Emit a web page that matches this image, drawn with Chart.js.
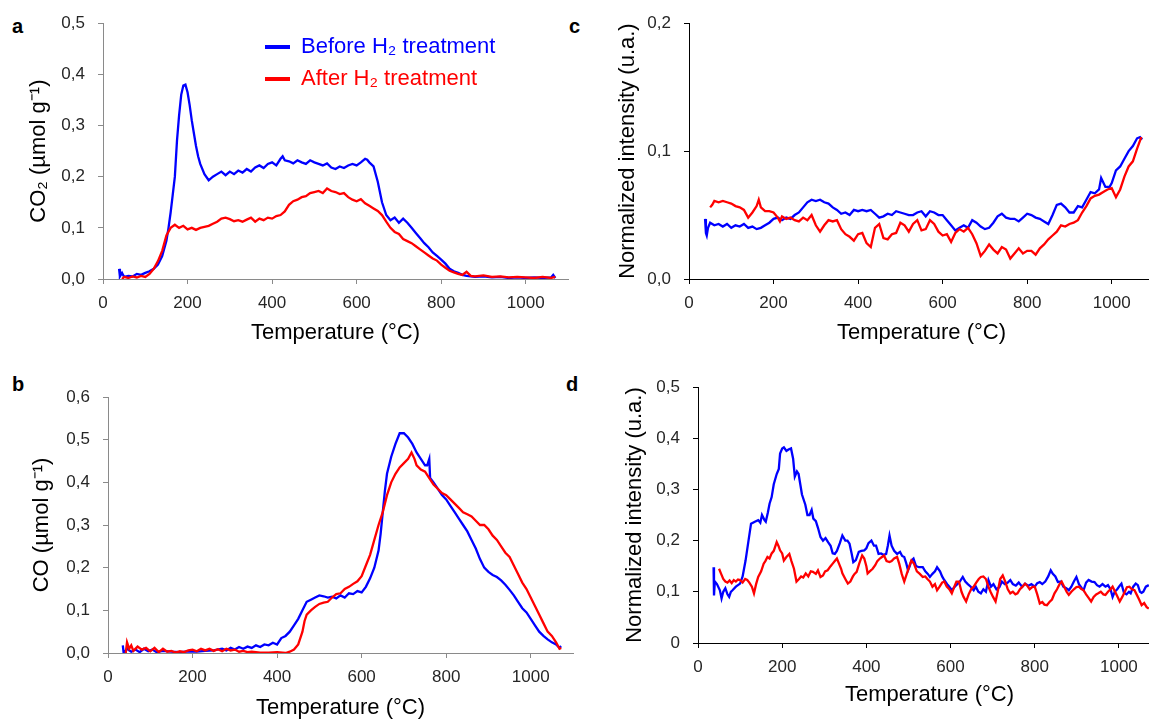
<!DOCTYPE html>
<html>
<head>
<meta charset="utf-8">
<script src="https://cdn.jsdelivr.net/npm/chart.js@4.4.0/dist/chart.umd.min.js"></script>
<style>
  body { margin: 0; width: 1149px; height: 719px; overflow: hidden; background: #fff; position: relative; }
  canvas { position: absolute; }
  .lbl { position: absolute; font: bold 20px "Liberation Sans", Arial, sans-serif; color: #000; }
</style>
</head>
<body>
<div class="lbl" style="left:12px;top:15px">a</div>
<div class="lbl" style="left:569px;top:15px">c</div>
<div class="lbl" style="left:12px;top:373px">b</div>
<div class="lbl" style="left:566px;top:373px">d</div>
<canvas id="chartA" width="580" height="360" style="left:0;top:0"></canvas>
<canvas id="chartC" width="580" height="360" style="left:580px;top:0"></canvas>
<canvas id="chartB" width="580" height="380" style="left:0;top:360px"></canvas>
<canvas id="chartD" width="590" height="360" style="left:580px;top:360px"></canvas>
<script>
// Etiquettes
const seriesNames = ['Before H\u2082 treatment', 'After H\u2082 treatment'];
const xTickLabels = ['0', '200', '400', '600', '800', '1000'];
const yTicksA = ['0,0', '0,1', '0,2', '0,3', '0,4', '0,5'];
const yTicksB = ['0,0', '0,1', '0,2', '0,3', '0,4', '0,5', '0,6'];
const yTicksC = ['0,0', '0,1', '0,2'];
const yTicksD = ['0', '0,1', '0,2', '0,3', '0,4', '0,5'];

// a : CO2 (température, valeur)
const aBefore = [[38,0.02],[40,0.005],[45,0.012],[50,0.004],[60,0.006],[70,0.005],[80,0.01],[90,0.008],[100,0.012],[110,0.015],[120,0.02],[130,0.028],[140,0.045],[150,0.075],[155,0.1],[160,0.13],[165,0.165],[170,0.2],[175,0.27],[180,0.32],[185,0.36],[190,0.378],[195,0.38],[200,0.365],[205,0.34],[210,0.31],[215,0.285],[220,0.26],[225,0.24],[230,0.225],[240,0.205],[250,0.193],[260,0.2],[270,0.205],[280,0.21],[290,0.203],[300,0.21],[310,0.205],[320,0.212],[330,0.208],[340,0.215],[350,0.21],[360,0.218],[370,0.222],[380,0.217],[390,0.225],[400,0.228],[410,0.222],[420,0.235],[425,0.24],[430,0.232],[440,0.23],[450,0.226],[460,0.232],[470,0.228],[480,0.225],[490,0.232],[500,0.228],[510,0.225],[520,0.222],[530,0.226],[540,0.218],[550,0.215],[560,0.22],[570,0.217],[580,0.222],[590,0.225],[600,0.222],[610,0.228],[620,0.235],[625,0.233],[630,0.228],[640,0.22],[650,0.19],[660,0.15],[670,0.125],[680,0.115],[690,0.12],[700,0.11],[710,0.118],[720,0.11],[730,0.1],[740,0.09],[750,0.08],[760,0.07],[770,0.062],[780,0.052],[790,0.045],[800,0.038],[810,0.03],[820,0.02],[830,0.015],[840,0.012],[850,0.008],[860,0.006],[880,0.004],[900,0.005],[920,0.003],[940,0.004],[960,0.002],[980,0.003],[1000,0.002],[1020,0.003],[1040,0.002],[1060,0.003],[1065,0.008],[1070,0.002]];
const aAfter = [[45,0.0],[50,0.004],[60,0.002],[70,0.005],[80,0.003],[90,0.006],[100,0.004],[110,0.01],[120,0.02],[130,0.035],[140,0.055],[150,0.085],[160,0.1],[170,0.106],[180,0.1],[190,0.104],[200,0.097],[210,0.1],[220,0.096],[230,0.1],[240,0.102],[250,0.104],[260,0.108],[270,0.112],[280,0.118],[290,0.12],[300,0.117],[310,0.113],[320,0.115],[330,0.112],[340,0.116],[350,0.12],[360,0.112],[370,0.118],[380,0.115],[390,0.12],[400,0.118],[410,0.123],[420,0.125],[430,0.132],[440,0.145],[450,0.152],[460,0.155],[470,0.16],[480,0.162],[490,0.168],[500,0.17],[510,0.172],[520,0.168],[530,0.177],[540,0.172],[550,0.17],[560,0.166],[570,0.168],[580,0.16],[590,0.155],[600,0.152],[610,0.156],[620,0.148],[630,0.143],[640,0.138],[650,0.133],[660,0.125],[670,0.112],[680,0.1],[690,0.092],[700,0.088],[710,0.078],[720,0.074],[730,0.07],[740,0.064],[750,0.058],[760,0.052],[770,0.046],[780,0.04],[790,0.036],[800,0.028],[810,0.022],[820,0.016],[830,0.013],[840,0.01],[850,0.008],[860,0.014],[870,0.006],[880,0.005],[900,0.007],[920,0.004],[940,0.005],[960,0.003],[980,0.004],[1000,0.003],[1020,0.002],[1040,0.004],[1060,0.002],[1070,0.004]];

// b : CO
const bBefore = [[35,0.018],[37,0.0],[45,0.01],[55,0.003],[65,0.008],[75,0.002],[85,0.01],[95,0.004],[105,0.008],[115,0.002],[130,0.005],[150,0.003],[170,0.002],[190,0.004],[210,0.003],[230,0.005],[250,0.006],[270,0.01],[280,0.006],[290,0.012],[300,0.008],[310,0.014],[320,0.01],[330,0.015],[340,0.012],[350,0.018],[360,0.014],[370,0.02],[380,0.018],[390,0.024],[400,0.02],[410,0.035],[420,0.04],[430,0.05],[440,0.065],[450,0.08],[460,0.1],[470,0.12],[480,0.125],[490,0.13],[500,0.135],[510,0.133],[520,0.13],[530,0.132],[540,0.128],[550,0.135],[560,0.13],[570,0.14],[580,0.138],[590,0.145],[600,0.142],[610,0.155],[620,0.175],[630,0.2],[640,0.24],[645,0.28],[650,0.33],[655,0.38],[660,0.42],[670,0.46],[680,0.49],[690,0.515],[700,0.515],[710,0.505],[720,0.49],[730,0.47],[740,0.455],[750,0.44],[755,0.44],[760,0.455],[762,0.41],[770,0.4],[780,0.385],[790,0.37],[800,0.36],[810,0.345],[820,0.33],[830,0.315],[840,0.3],[850,0.285],[860,0.265],[870,0.245],[880,0.22],[890,0.2],[900,0.19],[910,0.183],[920,0.178],[930,0.17],[940,0.16],[950,0.148],[960,0.135],[970,0.12],[980,0.105],[990,0.095],[1000,0.08],[1010,0.065],[1020,0.05],[1030,0.04],[1040,0.032],[1050,0.025],[1060,0.02],[1068,0.012],[1072,0.016]];
const bAfter = [[42,0.0],[45,0.025],[50,0.01],[55,0.018],[60,0.005],[70,0.015],[80,0.008],[90,0.012],[100,0.004],[110,0.012],[120,0.002],[130,0.01],[140,0.003],[150,0.005],[160,0.001],[170,0.004],[180,0.002],[190,0.006],[200,0.008],[210,0.004],[220,0.01],[230,0.006],[240,0.01],[250,0.005],[260,0.009],[270,0.004],[280,0.01],[290,0.006],[300,0.008],[310,0.003],[320,0.005],[330,0.002],[340,0.003],[360,0.001],[380,0.001],[400,0.002],[420,0.0],[430,0.003],[440,0.008],[450,0.02],[460,0.05],[465,0.075],[470,0.09],[480,0.1],[490,0.108],[500,0.115],[510,0.118],[520,0.12],[530,0.13],[540,0.138],[550,0.14],[560,0.15],[570,0.155],[580,0.162],[590,0.168],[600,0.18],[610,0.205],[620,0.23],[630,0.265],[640,0.3],[650,0.33],[660,0.37],[670,0.4],[680,0.42],[690,0.435],[700,0.445],[710,0.455],[718,0.47],[725,0.455],[730,0.44],[740,0.43],[750,0.425],[760,0.41],[770,0.395],[780,0.385],[790,0.375],[800,0.37],[810,0.36],[820,0.35],[830,0.34],[840,0.33],[850,0.325],[860,0.32],[870,0.31],[880,0.3],[890,0.3],[900,0.29],[910,0.275],[920,0.265],[930,0.25],[940,0.235],[950,0.225],[960,0.205],[970,0.185],[980,0.165],[990,0.15],[1000,0.13],[1010,0.11],[1020,0.09],[1030,0.07],[1040,0.05],[1050,0.04],[1060,0.025],[1068,0.01],[1072,0.012]];

// c : intensité normalisée
const cBefore = [[38,0.047],[40,0.036],[42,0.034],[45,0.04],[50,0.044],[60,0.042],[70,0.043],[80,0.041],[90,0.043],[100,0.04],[110,0.042],[120,0.041],[130,0.043],[140,0.04],[150,0.041],[160,0.039],[170,0.04],[180,0.042],[190,0.044],[200,0.047],[210,0.048],[220,0.046],[230,0.048],[240,0.047],[250,0.05],[260,0.052],[270,0.056],[280,0.06],[290,0.062],[300,0.061],[310,0.062],[320,0.06],[330,0.059],[340,0.056],[350,0.054],[360,0.051],[370,0.052],[380,0.05],[390,0.054],[400,0.053],[410,0.054],[420,0.053],[430,0.054],[440,0.051],[450,0.048],[460,0.049],[470,0.051],[480,0.05],[490,0.053],[500,0.052],[510,0.051],[520,0.05],[530,0.05],[540,0.052],[550,0.053],[560,0.049],[570,0.053],[580,0.052],[590,0.05],[600,0.05],[610,0.046],[620,0.042],[630,0.038],[640,0.04],[650,0.042],[660,0.04],[670,0.046],[680,0.044],[690,0.041],[700,0.039],[710,0.04],[720,0.044],[730,0.049],[740,0.051],[750,0.048],[760,0.047],[770,0.047],[780,0.045],[790,0.048],[800,0.051],[810,0.05],[820,0.048],[830,0.047],[840,0.045],[850,0.043],[860,0.05],[870,0.058],[880,0.059],[890,0.056],[900,0.052],[910,0.052],[920,0.057],[930,0.056],[940,0.062],[950,0.068],[960,0.067],[970,0.07],[975,0.079],[985,0.072],[995,0.072],[1000,0.075],[1010,0.085],[1020,0.088],[1030,0.094],[1040,0.1],[1050,0.104],[1060,0.11],[1067,0.111],[1072,0.109]];
const cAfter = [[50,0.056],[55,0.058],[60,0.061],[70,0.06],[80,0.061],[90,0.06],[100,0.059],[110,0.057],[120,0.056],[130,0.054],[140,0.048],[150,0.052],[160,0.057],[165,0.062],[170,0.056],[180,0.053],[190,0.053],[200,0.052],[210,0.048],[215,0.045],[220,0.049],[230,0.047],[240,0.048],[250,0.046],[260,0.045],[270,0.048],[280,0.046],[290,0.05],[300,0.042],[310,0.037],[320,0.042],[330,0.046],[340,0.045],[350,0.046],[360,0.039],[370,0.035],[380,0.033],[390,0.03],[400,0.035],[410,0.036],[420,0.028],[430,0.025],[440,0.04],[450,0.043],[460,0.032],[470,0.031],[480,0.035],[490,0.036],[500,0.044],[510,0.042],[520,0.037],[530,0.043],[540,0.046],[550,0.038],[560,0.039],[570,0.046],[580,0.043],[590,0.037],[600,0.034],[610,0.035],[620,0.029],[630,0.036],[640,0.039],[650,0.037],[660,0.04],[670,0.035],[680,0.028],[690,0.018],[700,0.022],[710,0.027],[720,0.023],[730,0.02],[740,0.025],[750,0.023],[760,0.016],[770,0.02],[780,0.024],[790,0.02],[800,0.022],[810,0.022],[820,0.019],[830,0.024],[840,0.027],[850,0.031],[860,0.034],[870,0.037],[880,0.042],[890,0.041],[900,0.043],[910,0.044],[920,0.046],[930,0.052],[940,0.057],[950,0.063],[960,0.065],[970,0.066],[980,0.068],[990,0.07],[1000,0.071],[1010,0.064],[1020,0.07],[1030,0.08],[1040,0.088],[1050,0.092],[1060,0.102],[1070,0.111]];

// d : intensité normalisée
const dBefore = [[37,0.148],[38,0.093],[40,0.12],[45,0.115],[52,0.103],[56,0.087],[60,0.1],[65,0.107],[70,0.095],[74,0.09],[78,0.1],[82,0.103],[90,0.11],[100,0.116],[106,0.13],[113,0.161],[120,0.2],[126,0.233],[135,0.237],[143,0.24],[148,0.235],[152,0.25],[158,0.24],[161,0.237],[166,0.255],[170,0.272],[175,0.285],[180,0.31],[187,0.33],[192,0.34],[195,0.37],[200,0.38],[204,0.382],[210,0.375],[215,0.378],[221,0.38],[226,0.36],[230,0.325],[235,0.335],[239,0.33],[243,0.31],[247,0.29],[255,0.27],[260,0.25],[265,0.25],[270,0.26],[274,0.243],[280,0.238],[285,0.225],[291,0.207],[297,0.2],[303,0.205],[309,0.197],[315,0.19],[320,0.175],[325,0.174],[330,0.18],[337,0.195],[343,0.21],[350,0.2],[355,0.2],[360,0.194],[365,0.175],[369,0.158],[375,0.162],[382,0.178],[388,0.18],[395,0.181],[400,0.185],[405,0.195],[412,0.2],[418,0.19],[423,0.19],[429,0.174],[435,0.175],[441,0.172],[447,0.174],[451,0.19],[455,0.21],[460,0.19],[466,0.18],[473,0.174],[480,0.178],[485,0.17],[490,0.168],[495,0.155],[499,0.142],[503,0.15],[507,0.161],[512,0.165],[518,0.15],[525,0.148],[534,0.148],[540,0.14],[546,0.135],[551,0.129],[557,0.135],[563,0.14],[568,0.148],[575,0.14],[580,0.13],[585,0.123],[592,0.115],[597,0.11],[603,0.103],[610,0.11],[616,0.115],[622,0.12],[629,0.129],[635,0.12],[641,0.115],[648,0.11],[655,0.103],[660,0.11],[666,0.1],[672,0.097],[678,0.105],[684,0.1],[690,0.123],[696,0.11],[702,0.115],[709,0.105],[716,0.109],[722,0.12],[729,0.115],[736,0.118],[742,0.123],[748,0.115],[755,0.112],[762,0.118],[770,0.11],[777,0.116],[785,0.112],[792,0.115],[800,0.11],[806,0.117],[812,0.119],[818,0.115],[825,0.12],[832,0.13],[838,0.142],[843,0.135],[849,0.13],[855,0.119],[862,0.12],[868,0.11],[875,0.107],[881,0.103],[887,0.11],[893,0.12],[899,0.129],[905,0.115],[911,0.108],[916,0.103],[922,0.118],[928,0.123],[935,0.12],[942,0.119],[948,0.113],[954,0.11],[961,0.115],[968,0.11],[974,0.113],[980,0.105],[985,0.09],[990,0.1],[996,0.105],[1002,0.112],[1006,0.116],[1012,0.098],[1018,0.095],[1024,0.1],[1028,0.097],[1034,0.11],[1040,0.116],[1045,0.113],[1050,0.1],[1054,0.098],[1058,0.1],[1064,0.11],[1071,0.113]];
const dAfter = [[50,0.145],[55,0.135],[60,0.125],[65,0.12],[70,0.118],[75,0.122],[80,0.117],[85,0.123],[90,0.12],[95,0.124],[100,0.123],[106,0.118],[112,0.125],[117,0.123],[122,0.118],[128,0.11],[133,0.097],[138,0.115],[143,0.129],[150,0.14],[156,0.155],[160,0.16],[165,0.168],[170,0.165],[175,0.175],[180,0.18],[187,0.197],[191,0.19],[195,0.181],[200,0.175],[204,0.161],[210,0.168],[217,0.174],[222,0.16],[228,0.145],[234,0.12],[240,0.125],[245,0.13],[250,0.128],[256,0.136],[262,0.13],[268,0.14],[273,0.139],[280,0.135],[285,0.142],[291,0.129],[297,0.132],[302,0.14],[308,0.142],[315,0.15],[320,0.155],[325,0.16],[330,0.165],[335,0.155],[340,0.145],[343,0.136],[350,0.125],[356,0.116],[362,0.12],[368,0.13],[372,0.135],[377,0.139],[383,0.155],[390,0.171],[395,0.165],[400,0.15],[403,0.136],[408,0.14],[415,0.145],[421,0.152],[426,0.16],[432,0.165],[437,0.168],[442,0.171],[448,0.16],[455,0.158],[460,0.16],[466,0.165],[473,0.168],[478,0.155],[484,0.135],[490,0.12],[496,0.135],[502,0.15],[507,0.161],[513,0.155],[520,0.14],[527,0.135],[534,0.129],[540,0.13],[545,0.125],[551,0.12],[557,0.11],[563,0.115],[568,0.103],[574,0.11],[580,0.118],[585,0.12],[591,0.11],[597,0.105],[603,0.097],[609,0.11],[614,0.12],[620,0.12],[626,0.1],[631,0.09],[637,0.081],[643,0.095],[649,0.105],[655,0.11],[661,0.118],[667,0.125],[672,0.129],[678,0.13],[684,0.125],[690,0.11],[695,0.1],[701,0.09],[707,0.081],[712,0.1],[718,0.125],[724,0.132],[730,0.12],[736,0.105],[742,0.097],[748,0.1],[754,0.095],[759,0.097],[765,0.105],[771,0.11],[777,0.116],[782,0.112],[788,0.105],[794,0.109],[800,0.11],[806,0.095],[812,0.077],[818,0.08],[823,0.075],[829,0.074],[835,0.08],[841,0.085],[847,0.097],[853,0.105],[859,0.115],[864,0.12],[870,0.11],[876,0.1],[881,0.094],[887,0.1],[893,0.105],[899,0.109],[905,0.11],[910,0.106],[916,0.103],[922,0.095],[928,0.088],[934,0.081],[940,0.09],[946,0.095],[951,0.097],[957,0.1],[963,0.095],[968,0.094],[974,0.1],[980,0.105],[985,0.11],[991,0.1],[997,0.09],[1002,0.081],[1008,0.09],[1014,0.1],[1019,0.109],[1025,0.11],[1031,0.105],[1037,0.103],[1042,0.095],[1048,0.085],[1054,0.074],[1060,0.078],[1066,0.07],[1071,0.067]];

const FONT = '"Liberation Sans", Arial, sans-serif';
const BLUE = '#0000ff';
const RED = '#ff0000';

// Légende dessinée dans le graphique a
const inlineLegend = {
    id: 'inlineLegend',
    afterDatasetsDraw(chart) {
        const ctx = chart.ctx;
        chart.data.datasets.forEach((ds, i) => {
            const y = 47 + i * 32;
            ctx.save();
            ctx.strokeStyle = ds.borderColor;
            ctx.lineWidth = 4;
            ctx.beginPath();
            ctx.moveTo(265, y);
            ctx.lineTo(290, y);
            ctx.stroke();
            ctx.fillStyle = ds.borderColor;
            ctx.font = '22px ' + FONT;
            ctx.textBaseline = 'middle';
            ctx.fillText(ds.label, 301, y);
            ctx.restore();
        });
    }
};

function toXY(pairs) {
    return pairs.map(p => ({ x: p[0], y: p[1] }));
}

// valeur numérique d'une étiquette "0,3" -> 0.3
function labelValue(s) {
    return parseFloat(s.replace(',', '.'));
}

function panel(id, before, after, o) {
    return new Chart(document.getElementById(id), {
        type: 'line',
        data: {
            datasets: [
                { label: seriesNames[0], data: toXY(before), borderColor: BLUE, borderWidth: 2.3, pointRadius: 0, tension: 0, order: 1 },
                { label: seriesNames[1], data: toXY(after), borderColor: RED, borderWidth: 2.3, pointRadius: 0, tension: 0, order: 0 }
            ]
        },
        options: {
            responsive: false,
            animation: false,
            events: [],
            layout: { padding: o.pad },
            plugins: { legend: { display: false }, tooltip: { enabled: false } },
            scales: {
                x: {
                    type: 'linear', min: 0, max: 1100,
                    afterBuildTicks: s => { s.ticks = xTickLabels.map(l => ({ value: labelValue(l) })); },
                    afterFit: s => { s.height = o.xh; },
                    ticks: { autoSkip: false, maxRotation: 0, padding: 9, color: '#262626',
                             font: { family: FONT, size: 17 }, callback: (v, i) => xTickLabels[i] },
                    grid: { display: true, drawOnChartArea: false, drawTicks: true, tickLength: 5, color: o.axis },
                    border: { display: true, color: o.axis, width: 1 },
                    title: { display: true, text: 'Temperature (°C)', color: '#000', padding: 0,
                             font: { family: FONT, size: 22 } }
                },
                y: {
                    min: 0, max: o.ymax,
                    afterBuildTicks: s => { s.ticks = o.yLabels.map(l => ({ value: labelValue(l) })); },
                    afterFit: s => { s.width = o.yw; },
                    ticks: { autoSkip: false, padding: 13, color: '#262626',
                             font: { family: FONT, size: 17 }, callback: (v, i) => o.yLabels[i] },
                    grid: { display: true, drawOnChartArea: false, drawTicks: true, tickLength: 5, color: o.axis },
                    border: { display: true, color: o.axis, width: 1 },
                    title: { display: true, text: o.yTitle, color: '#000', padding: 0,
                             font: { family: FONT, size: 22 } }
                }
            }
        },
        plugins: o.plugins || []
    });
}

panel('chartA', aBefore, aAfter, {
    pad: { left: 26, top: 23, right: 12, bottom: 14 }, xh: 67, yw: 77,
    ymax: 0.5, yLabels: yTicksA, axis: '#8a8a8a',
    yTitle: 'CO\u2082 (\u00b5mol g\u207b\u00b9)', plugins: [inlineLegend]
});
panel('chartC', cBefore, cAfter, {
    pad: { left: 35, top: 23, right: 6, bottom: 14 }, xh: 67, yw: 74,
    ymax: 0.2, yLabels: yTicksC, axis: '#000',
    yTitle: 'Normalized intensity (u.a.)'
});
panel('chartB', bBefore, bAfter, {
    pad: { left: 29, top: 37, right: 7, bottom: 19 }, xh: 68, yw: 79,
    ymax: 0.6, yLabels: yTicksB, axis: '#8a8a8a',
    yTitle: 'CO (\u00b5mol g\u207b\u00b9)'
});
panel('chartD', dBefore, dAfter, {
    pad: { left: 42, top: 27, right: 9, bottom: 12 }, xh: 65, yw: 76,
    ymax: 0.5, yLabels: yTicksD, axis: '#000',
    yTitle: 'Normalized intensity (u.a.)'
});
</script>
</body>
</html>
